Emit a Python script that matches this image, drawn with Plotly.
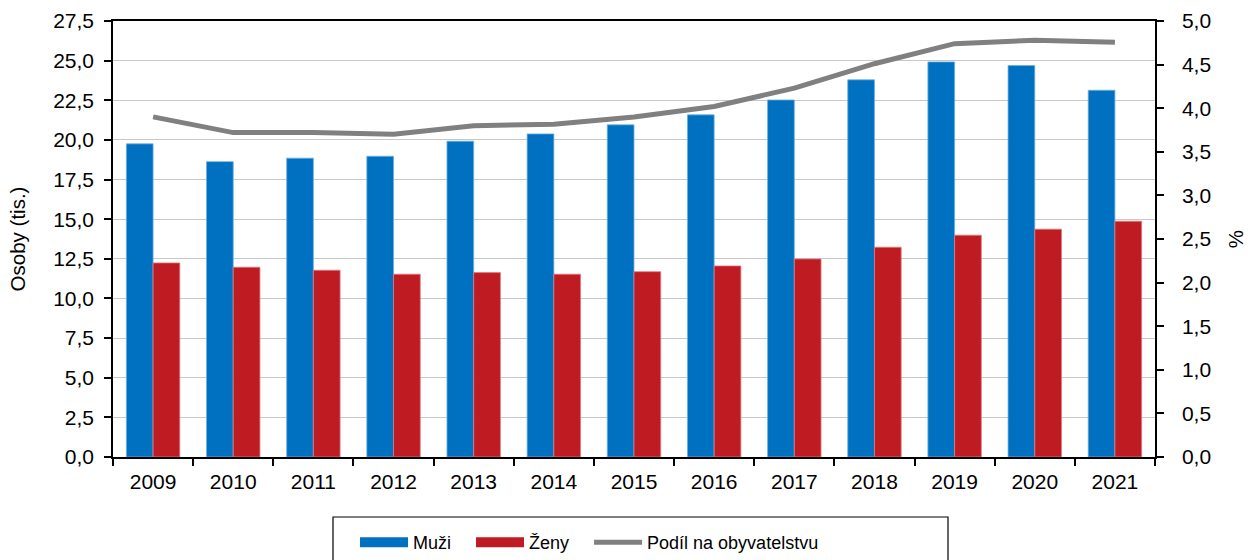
import plotly.graph_objects as go

years = ["2009", "2010", "2011", "2012", "2013", "2014", "2015", "2016", "2017", "2018", "2019", "2020", "2021"]
muzi = [19.75, 18.63, 18.85, 18.97, 19.92, 20.38, 20.95, 21.58, 22.52, 23.79, 24.92, 24.69, 23.13]
zeny = [12.24, 11.97, 11.78, 11.53, 11.63, 11.53, 11.69, 12.05, 12.49, 13.23, 13.99, 14.37, 14.87]
podil = [3.90, 3.72, 3.72, 3.70, 3.80, 3.815, 3.90, 4.02, 4.23, 4.51, 4.74, 4.78, 4.755]

left_ticks = [i * 2.5 for i in range(12)]
right_ticks = [i * 0.5 for i in range(11)]

BLUE = "#0070C0"
RED = "#BE1B23"
GREY = "#808080"
FONT = "Liberation Sans, Arial, sans-serif"
NB = "\u00a0"

fig = go.Figure()
fig.add_trace(go.Bar(x=years, y=muzi, name="Muži", marker=dict(color=BLUE, line=dict(color="#6FB0E0", width=0.8)),
                     showlegend=False))
fig.add_trace(go.Bar(x=years, y=zeny, name="Ženy", marker=dict(color=RED, line=dict(color="#E07A80", width=0.8)),
                     showlegend=False))
fig.add_trace(go.Scatter(x=years, y=podil, name="Podíl na obyvatelstvu", mode="lines", yaxis="y2",
                         line=dict(color=GREY, width=5), showlegend=False))
# legend entries
fig.add_trace(go.Scatter(x=[None], y=[None], name="Muži" + NB * 3, mode="lines", line=dict(color=BLUE, width=12)))
fig.add_trace(go.Scatter(x=[None], y=[None], name="Ženy" + NB * 3, mode="lines", line=dict(color=RED, width=12)))
fig.add_trace(go.Scatter(x=[None], y=[None], name="Podíl na obyvatelstvu", mode="lines", line=dict(color=GREY, width=5)))

fig.update_layout(
    width=1248, height=560,
    margin=dict(l=113, r=93, t=21, b=103),
    paper_bgcolor="white", plot_bgcolor="white",
    font=dict(family=FONT, size=21, color="black"),
    separators=",.",
    barmode="group", bargap=1/3, bargroupgap=0,
    xaxis=dict(type="category", showline=True, linecolor="black", linewidth=1.5, mirror=True,
               ticks="outside", tickson="boundaries", ticklen=7, tickcolor="black", tickwidth=1.5,
               showgrid=False, tickfont=dict(size=21), automargin=False, ticklabelstandoff=5),
    yaxis=dict(range=[0, 27.5], tickvals=left_ticks, tickformat=".1f", showline=True, linecolor="black",
               linewidth=1.5, ticks="outside", ticklen=7, tickcolor="black", tickwidth=1.5,
               showgrid=True, gridcolor="#C8C8C8", gridwidth=1.2, zeroline=False, automargin=False,
               ticklabelstandoff=6,
               title=dict(text="Osoby (tis.)", font=dict(size=20.5), standoff=22), tickfont=dict(size=21)),
    yaxis2=dict(range=[0, 5], tickvals=right_ticks, tickformat=".1f", overlaying="y", side="right",
                showline=True, linecolor="black", linewidth=1.5, ticks="outside", ticklen=7,
                tickcolor="black", tickwidth=1.5, showgrid=False, zeroline=False, automargin=False,
                ticklabelstandoff=14,
                title=dict(text="%", font=dict(size=20.5), standoff=18), tickfont=dict(size=21)),
    legend=dict(orientation="h", xref="container", yref="container", x=355 / 1248, y=1 - 524 / 560,
                xanchor="left", yanchor="top", borderwidth=0,
                font=dict(size=18), itemwidth=48, traceorder="normal"),
    shapes=[dict(type="rect", xref="paper", yref="paper",
                 x0=(333 - 113) / 1042, x1=(948 - 113) / 1042,
                 y0=(457 - 517) / 436, y1=(457 - 580) / 436,
                 line=dict(color="black", width=1.2), fillcolor="rgba(0,0,0,0)", layer="above")],
)

fig.write_html("out.html", config={"displayModeBar": False},
               post_script="document.body.style.margin='0';document.body.style.padding='0';")
